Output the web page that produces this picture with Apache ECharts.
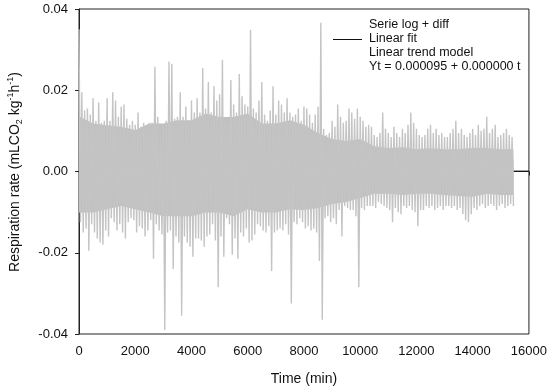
<!DOCTYPE html>
<html>
<head>
<meta charset="utf-8">
<script src="https://cdn.jsdelivr.net/npm/echarts@6/dist/echarts.min.js"></script>
<style>html,body{margin:0;padding:0;background:#fff}#c{width:550px;height:391px}</style>
</head>
<body>
<div id="c"></div>
<script>
// Sampling step of the envelope columns (min)
const stepMin = 100;
// Upper envelope (column maxima) per 100-min column, t = 0 ... 15400
const upperVals = [
0.035,0.0195,0.015,0.0155,0.014,0.018,0.0125,0.017,0.012,0.0125,
0.018,0.0125,0.0195,0.0175,0.0135,0.016,0.0165,0.013,0.0115,0.0125,
0.0115,0.0145,0.011,0.012,0.0105,0.012,
0.012,0.0258,0.0135,0.0085,0.0115,0.0125,0.0271,0.0265,0.013,0.0135,
0.0195,0.0135,0.016,0.012,0.0175,0.0145,0.018,0.0145,0.0255,0.0155,
0.022,0.0145,0.021,0.0175,0.019,0.0275,
0.0125,0.012,0.0225,0.0165,0.0145,0.024,0.0185,0.0165,0.016,0.0349,
0.0155,0.0145,0.0175,0.022,0.014,0.0125,0.015,0.021,0.014,0.0175,
0.0165,0.0145,0.018,0.0145,0.0135,0.014,
0.0155,0.0125,0.016,0.0155,0.014,0.012,0.014,0.016,0.0366,0.0105,
0.009,0.0095,0.0125,0.011,0.0165,0.0135,0.012,0.0125,0.0155,0.0145,
0.013,0.0155,0.0135,0.0125,0.011,0.0115,0.011,
0.009,0.0085,0.0095,0.0145,0.0105,0.0095,0.0085,0.011,0.0095,0.0085,
0.0105,0.0095,0.0115,0.0145,0.012,0.0105,0.009,0.0085,0.009,0.0105,
0.0115,0.0095,0.0105,0.009,0.0095,0.0085,
0.0085,0.0095,0.0105,0.0125,0.0095,0.0105,0.009,0.0085,0.0095,0.0105,
0.009,0.0115,0.01,0.0105,0.0135,0.0095,0.0105,0.0115,0.0085,0.009,
0.0095,0.0105,0.009,0.0085
];
// Lower envelope (column minima) per 100-min column, t = 50 ... 15450
const lowerVals = [
-0.0125,-0.015,-0.014,-0.0195,-0.013,-0.015,-0.0165,-0.0175,-0.018,-0.0145,
-0.016,-0.0115,-0.0125,-0.0145,-0.013,-0.015,-0.0165,-0.0125,-0.0115,-0.012,
-0.015,-0.0135,-0.014,-0.016,-0.0145,-0.012,
-0.0215,-0.013,-0.0145,-0.0155,-0.039,-0.015,-0.0145,-0.024,-0.016,-0.0175,
-0.0355,-0.016,-0.0175,-0.0185,-0.021,-0.0165,-0.0165,-0.017,-0.0185,-0.016,
-0.0155,-0.013,-0.017,-0.0285,-0.016,-0.021,
-0.0115,-0.013,-0.0205,-0.0165,-0.0215,-0.015,-0.016,-0.014,-0.0175,-0.017,
-0.0155,-0.013,-0.0135,-0.0145,-0.015,-0.0135,-0.0245,-0.015,-0.0145,-0.014,
-0.0145,-0.013,-0.0155,-0.0325,-0.0125,-0.013,
-0.0115,-0.0125,-0.014,-0.0135,-0.0145,-0.014,-0.015,-0.022,-0.0365,-0.0115,
-0.011,-0.0125,-0.0115,-0.013,-0.0095,-0.016,-0.0085,-0.009,-0.0095,-0.0095,
-0.011,-0.0285,-0.009,-0.0095,-0.0085,-0.0085,-0.0085,
-0.009,-0.0075,-0.008,-0.0085,-0.009,-0.0095,-0.0125,-0.009,-0.01,-0.0105,
-0.0085,-0.009,-0.0085,-0.0095,-0.01,-0.0135,-0.0095,-0.0095,-0.0085,-0.009,
-0.0085,-0.0095,-0.009,-0.0085,-0.0095,-0.0085,
-0.0085,-0.009,-0.0085,-0.0095,-0.009,-0.0105,-0.012,-0.0125,-0.0105,-0.009,
-0.0095,-0.0085,-0.008,-0.009,-0.0085,-0.008,-0.0085,-0.0095,-0.0085,-0.008,
-0.009,-0.0085,-0.008,-0.0085
];
// Dense core band of the series (edges of the solid grey region)
const coreTimes = [0,500,1000,1500,2000,2500,3000,3500,4000,4500,5000,5500,6000,6500,7000,7500,
  8000,8500,9000,9500,10000,10500,11000,11500,12000,12500,13000,13500,14000,14500,15000,15450];
const coreUpper = [0.0136,0.0118,0.0114,0.011,0.0102,0.0118,0.0118,0.0126,0.0126,0.0143,0.0134,0.0134,0.0143,0.0118,0.0118,0.0126,
  0.0115,0.0095,0.008,0.0075,0.008,0.0062,0.0058,0.006,0.0055,0.0057,0.0055,0.0055,0.0058,0.0058,0.0055,0.0055];
const coreLower = [-0.0101,-0.0101,-0.0093,-0.0085,-0.0093,-0.0101,-0.011,-0.011,-0.011,-0.0101,-0.0101,-0.011,-0.0093,-0.0101,-0.0101,-0.0093,
  -0.0095,-0.009,-0.008,-0.0075,-0.0065,-0.0055,-0.0055,-0.0058,-0.0055,-0.0055,-0.0058,-0.006,-0.0062,-0.0055,-0.0058,-0.0058];
// Linear trend model: Yt = 0.000095 + 0.000000 t
const fitIntercept = 0.000095;
const fitSlope = 0.0;
const fitRange = [0, 16000];
const xTickLabels = ['0','2000','4000','6000','8000','10000','12000','14000','16000'];
const yTickLabels = ['-0.04','-0.02','0.00','0.02','0.04'];
const legendLines = ['Serie log + diff', 'Linear fit', 'Linear trend model', 'Yt = 0.000095 + 0.000000 t'];

const seriesData = [];
for (let i = 0; i < upperVals.length; i++) {
  const t = i * stepMin;
  seriesData.push([t, upperVals[i]]);
  seriesData.push([t + stepMin / 2, lowerVals[i]]);
}
const coreUpData = coreTimes.map((t, i) => [t, coreUpper[i]]);
const coreLoData = coreTimes.map((t, i) => [t, coreLower[i]]);
const fitData = fitRange.map(t => [t, fitIntercept + fitSlope * t]);

const GREY = '#c0c0c0';
const FONT = '"Liberation Sans", Arial, sans-serif';
const chart = echarts.init(document.getElementById('c'), null, {renderer: 'canvas'});
chart.setOption({
  animation: false,
  backgroundColor: '#fff',
  grid: {left: 79, right: 20, top: 9, bottom: 56, show: true, borderColor: '#222', borderWidth: 1, backgroundColor: 'transparent'},
  xAxis: {
    type: 'value', min: 0, max: 16000, interval: 2000,
    name: 'Time (min)', nameLocation: 'middle', nameGap: 38,
    nameTextStyle: {fontFamily: FONT, fontSize: 14, color: '#111'},
    axisLine: {lineStyle: {color: '#222', width: 1}},
    axisTick: {length: 4, lineStyle: {color: '#222'}},
    axisLabel: {fontFamily: FONT, fontSize: 13, color: '#111', margin: 11,
      formatter: v => xTickLabels[Math.round(v / 2000)]},
    splitLine: {show: false}
  },
  yAxis: {
    type: 'value', min: -0.04, max: 0.04, interval: 0.02,
    axisLine: {show: true, lineStyle: {color: '#222', width: 1}},
    axisTick: {show: true, length: 4, lineStyle: {color: '#222'}},
    axisLabel: {fontFamily: FONT, fontSize: 13, color: '#111', margin: 11,
      formatter: v => yTickLabels[Math.round((v + 0.04) / 0.02)]},
    splitLine: {show: false}
  },
  graphic: [
    {type: 'text', left: 369, top: 18, style: {text: legendLines[0], font: '12.5px ' + FONT, fill: '#111'}},
    {type: 'line', shape: {x1: 333, y1: 39.5, x2: 362, y2: 39.5}, style: {stroke: '#111', lineWidth: 1}},
    {type: 'text', left: 369, top: 32, style: {text: legendLines[1], font: '12.5px ' + FONT, fill: '#111'}},
    {type: 'text', left: 369, top: 46, style: {text: legendLines[2], font: '12.5px ' + FONT, fill: '#111'}},
    {type: 'text', left: 369, top: 60, style: {text: legendLines[3], font: '12.5px ' + FONT, fill: '#111'}},
    {type: 'text', x: 15, y: 172, rotation: Math.PI / 2,
      style: {
        text: '{n|Respiration rate (mLCO}{s|2}{n| kg}{p|-1}{n|h}{p|-1}{n|)}',
        align: 'center', verticalAlign: 'middle', fill: '#111',
        rich: {
          n: {fontFamily: FONT, fontSize: 14, lineHeight: 18, verticalAlign: 'middle', fill: '#111'},
          s: {fontFamily: FONT, fontSize: 9, lineHeight: 18, verticalAlign: 'bottom', fill: '#111'},
          p: {fontFamily: FONT, fontSize: 9, lineHeight: 18, verticalAlign: 'top', fill: '#111'}
        }
      }}
  ],
  series: [
    {type: 'line', name: 'Linear fit', data: fitData, symbol: 'none', z: 1,
      lineStyle: {color: '#111', width: 1}, silent: true},
    {type: 'line', name: 'core+', data: coreUpData, symbol: 'none', z: 2, silent: true,
      lineStyle: {width: 0, color: GREY}, areaStyle: {color: GREY, opacity: 1, origin: -0.003}},
    {type: 'line', name: 'core-', data: coreLoData, symbol: 'none', z: 2, silent: true,
      lineStyle: {width: 0, color: GREY}, areaStyle: {color: GREY, opacity: 1, origin: 0.003}},
    {type: 'line', name: 'Serie log + diff', data: seriesData, symbol: 'none', z: 3,
      sampling: null, lineStyle: {color: '#c4c4c4', width: 1.4}, silent: true}
  ]
});
</script>
</body>
</html>
